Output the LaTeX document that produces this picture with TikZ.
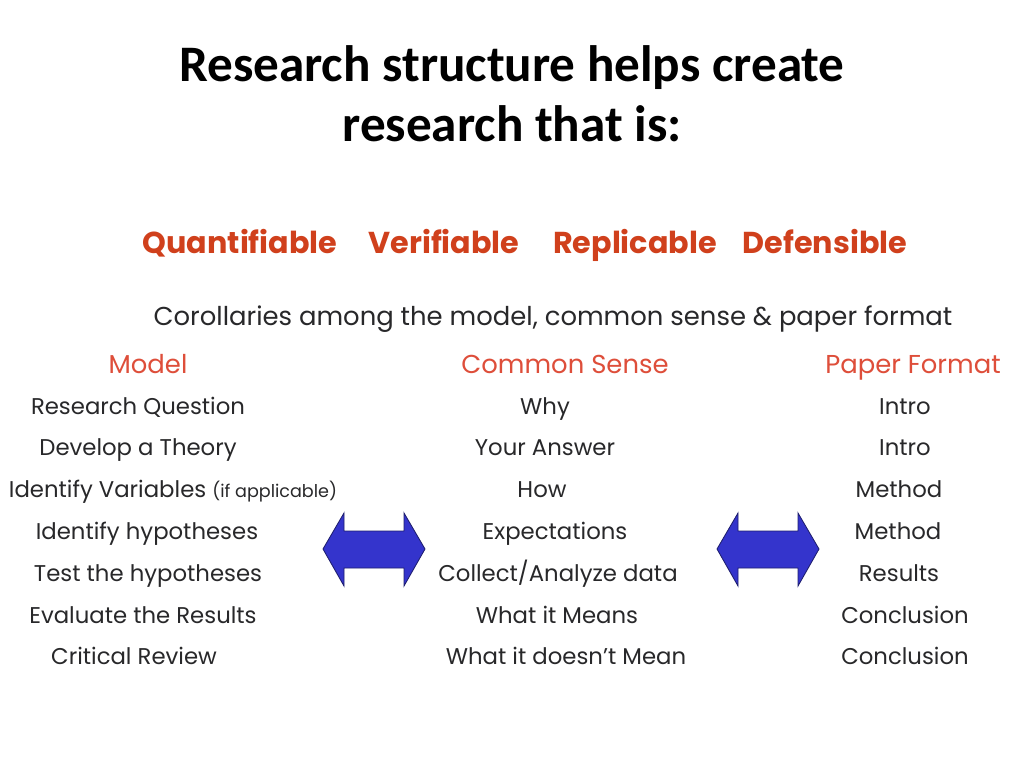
\documentclass[tikz,border=0pt]{standalone}
\usepackage{fontspec}
\setmainfont{Poppins}
\newfontfamily\titlefont{Carlito}
\usetikzlibrary{positioning}
\definecolor{headred}{RGB}{208,64,28}
\definecolor{colred}{RGB}{222,78,58}
\definecolor{bodygray}{RGB}{40,40,42}
\definecolor{arrowblue}{RGB}{52,52,204}
\definecolor{arrowedge}{RGB}{30,30,110}

\begin{document}
\begin{tikzpicture}[x=0.025cm, y=-0.025cm,
    cell/.style={anchor=base, text=bodygray, inner sep=0pt, font=\fontsize{16.2}{18}\selectfont},
    colhead/.style={anchor=base, text=colred, inner sep=0pt, font=\fontsize{18.4}{21}\selectfont},
    quality/.style={anchor=base, text=headred, inner sep=0pt, font=\fontsize{21.5}{25}\selectfont\bfseries}]
\useasboundingbox[fill=white] (0,0) rectangle (1024,768);

% title
\node[anchor=base, inner sep=0pt, font=\fontsize{36.4}{42}\selectfont\titlefont\bfseries] (title1) at (512,82) {Research structure helps create};
\node[anchor=base, inner sep=0pt, font=\fontsize{36.4}{42}\selectfont\titlefont\bfseries] (title2) at (512,142) {research that is:};

% the four qualities
\node[quality] (quant) at (240,253) {Quantifiable};
\node[quality] (verif) at (444,253) {Verifiable};
\node[quality] (repl) at (635,253) {Replicable};
\node[quality] (def) at (825,253) {Defensible};

\node[cell, font=\fontsize{18.4}{21}\selectfont] (corollaries) at (553,325) {Corollaries among the model, common sense \& paper format};

% column heads
\node[colhead] (model) at (148,373) {Model};
\node[colhead] (sense) at (565,373) {Common Sense};
\node[colhead] (paper) at (913,373) {Paper Format};

% rows
\foreach \t/\x [count=\i] in {Research Question/138, Develop a Theory/138,
    {Identify Variables {\fontsize{12.5}{14}\selectfont(if applicable)}}/173,
    Identify hypotheses/147, Test the hypotheses/148, Evaluate the Results/143, Critical Review/134}
  \node[cell] (model\i) at (\x,{414+(\i-1)*41.8}) {\t};

\foreach \t/\x [count=\i] in {Why/545, Your Answer/545, How/542, Expectations/555,
    {Collect/Analyze data}/558, What it Means/557, What it doesn't Mean/566}
  \node[cell] (sense\i) at (\x,{414+(\i-1)*41.8}) {\t};

\foreach \t/\x [count=\i] in {Intro/905, Intro/905, Method/899, Method/898,
    Results/899, Conclusion/905, Conclusion/905}
  \node[cell] (paper\i) at (\x,{414+(\i-1)*41.8}) {\t};

% double arrows
\foreach \dx in {0,394} {
  \draw[fill=arrowblue, draw=arrowedge, line width=0.6pt, shift={(\dx,0)}]
    (323,549) -- (344,513) -- (344,531) -- (404,531) -- (404,513) -- (425,549)
    -- (404,586) -- (404,568) -- (344,568) -- (344,586) -- cycle;
}

\end{tikzpicture}
\end{document}
